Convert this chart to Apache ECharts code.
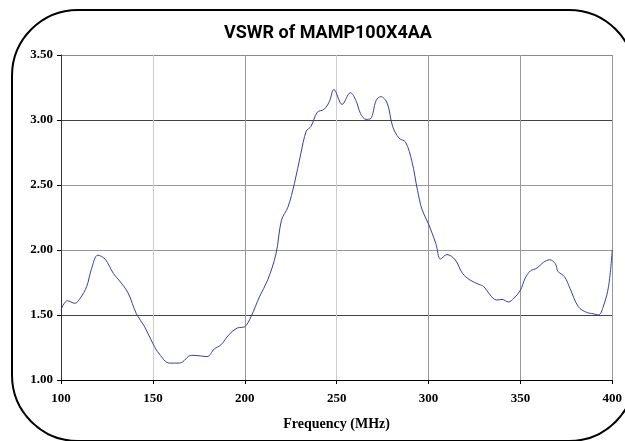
<!DOCTYPE html>
<html>
<head>
<meta charset="utf-8">
<script src="https://cdn.jsdelivr.net/npm/echarts@6/dist/echarts.min.js"></script>
<style>
  html, body { margin: 0; padding: 0; background: #fff; }
  #main { width: 625px; height: 441px; }
</style>
</head>
<body>
<div id="main"></div>
<script>
// values (frequency in MHz, VSWR)
var freq = [100, 103.5, 107.5, 110.5, 114, 116.5, 120, 124, 128.5, 132, 136.5, 141, 145.5, 150, 153.5,
    159, 164.5, 171, 176, 179.5, 183.5, 187, 191.5, 196, 200, 203.5, 208, 212.5, 217, 220, 223.5, 227,
    230.5, 233.5, 236, 239.5, 243, 246, 248.5, 253, 257.5, 260.5, 263, 266, 268.5, 271.5, 274, 277.5,
    280.5, 284, 287.5, 291, 294, 296.5, 300, 304, 306.5, 310, 314.5, 318.5, 322.5, 327.5, 330, 333.5,
    337, 340, 343.5, 346.5, 350, 352.5, 355.5, 359, 362.5, 366, 369, 370.5, 374, 377, 381.5, 386,
    389.5, 392.5, 395, 398, 400];
var vswr = [1.54, 1.61, 1.59, 1.63, 1.72, 1.85, 1.96, 1.93, 1.82, 1.76, 1.67, 1.51, 1.41, 1.28, 1.20,
    1.13, 1.13, 1.19, 1.185, 1.18, 1.24, 1.27, 1.35, 1.40, 1.41, 1.49, 1.64, 1.77, 1.97, 2.23, 2.33, 2.51,
    2.74, 2.915, 2.95, 3.06, 3.08, 3.14, 3.235, 3.12, 3.21, 3.15, 3.05, 3.005, 3.01, 3.15, 3.18, 3.13,
    2.95, 2.86, 2.83, 2.68, 2.46, 2.31, 2.20, 2.05, 1.93, 1.965, 1.925, 1.82, 1.77, 1.735, 1.72, 1.655,
    1.615, 1.62, 1.60, 1.63, 1.69, 1.78, 1.84, 1.86, 1.905, 1.925, 1.895, 1.835, 1.795, 1.705, 1.565, 1.52,
    1.51, 1.50, 1.56, 1.72, 2.0];

var points = freq.map(function (f, i) { return [f, vswr[i]]; });

var labelFont = {
    fontFamily: '"Liberation Serif", "Times New Roman", serif',
    fontWeight: 'bold',
    fontSize: 13,
    color: '#000'
};

var myChart = echarts.init(document.getElementById('main'));

option = {
    animation: false,
    backgroundColor: '#fff',
    title: {
        text: 'VSWR of MAMP100X4AA',
        left: 219,
        top: 19,
        textStyle: {
            fontFamily: 'Roboto, sans-serif',
            fontWeight: 'bold',
            fontSize: 18,
            color: '#000'
        }
    },
    graphic: [{
        type: 'rect',
        shape: {x: 12, y: 10, width: 623, height: 431, r: 66},
        style: {fill: 'none', stroke: '#000', lineWidth: 2},
        silent: true,
        z: 100
    }],
    grid: {
        left: 61,
        right: 11,
        top: 55,
        bottom: 61
    },
    xAxis: {
        type: 'value',
        min: 100,
        max: 400,
        interval: 50,
        name: 'Frequency (MHz)',
        nameLocation: 'middle',
        nameGap: 37,
        nameTextStyle: Object.assign({}, labelFont, {fontSize: 14}),
        axisLine: {lineStyle: {color: '#000', width: 1}},
        axisTick: {show: true, length: 4, inside: false, lineStyle: {color: '#000'}},
        axisLabel: Object.assign({margin: 12}, labelFont),
        splitLine: {
            show: true,
            lineStyle: {color: ['#ccc', '#ccc', '#999', '#ccc', '#999', '#999', '#999'], width: 1}
        }
    },
    yAxis: {
        type: 'value',
        min: 1,
        max: 3.5,
        interval: 0.5,
        axisLine: {show: true, lineStyle: {color: '#333', width: 1}},
        axisTick: {show: true, length: 4, lineStyle: {color: '#000'}},
        axisLabel: Object.assign({
            margin: 8,
            formatter: function (v) { return v.toFixed(2); }
        }, labelFont),
        splitLine: {
            show: true,
            lineStyle: {color: ['#999', '#444', '#999', '#999', '#444', '#888'], width: 1}
        }
    },
    series: [{
        name: 'VSWR',
        type: 'line',
        data: points,
        smooth: 0.35,
        showSymbol: false,
        lineStyle: {color: '#3c3ca6', width: 1}
    }]
};

myChart.setOption(option);
</script>
</body>
</html>
